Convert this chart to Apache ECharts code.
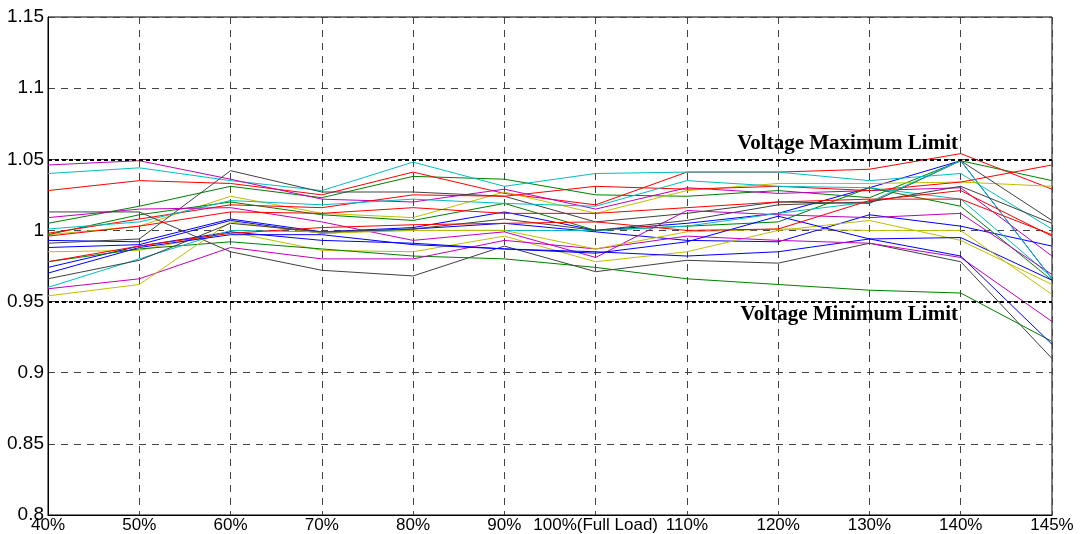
<!DOCTYPE html>
<html lang="en">
<head>
    <meta charset="UTF-8">
    <title>Voltage profile</title>
    <script src="https://cdn.jsdelivr.net/npm/echarts@6/dist/echarts.min.js"></script>
    <style>
        html, body {
            margin: 0;
            height: 100%;
            width: 100%;
            overflow: hidden;
            background: #fff;
        }
    </style>
</head>
<body>
<div id="chart" style="width: 1083px;height: 534px;"></div>
<script>
    var loads = ['40%', '50%', '60%', '70%', '80%', '90%', '100%(Full Load)', '110%', '120%', '130%', '140%', '145%'];

    var maxLimit = 1.05;
    var minLimit = 0.95;

    // bus voltages (p.u.), one array per curve
    var magentaA = [1.046, 1.049, 1.036, 1.022, 1.020, 1.029, 1.015, 1.030, 1.026, 1.028, 1.030, 0.982];
    var magentaB = [1.009, 1.015, 1.016, 1.006, 0.993, 0.999, 0.981, 1.014, 1.011, 1.009, 1.012, 0.969];
    var magentaC = [0.959, 0.966, 0.988, 0.980, 0.980, 0.993, 0.987, 0.996, 0.993, 0.991, 0.981, 0.936];
    var cyanA = [1.040, 1.044, 1.035, 1.028, 1.048, 1.031, 1.040, 1.041, 1.041, 1.035, 1.040, 1.001];
    var cyanB = [1.001, 1.006, 1.021, 1.018, 1.022, 1.019, 1.017, 1.035, 1.031, 1.030, 1.022, 0.967];
    var cyanC = [0.960, 0.980, 1.000, 0.999, 1.000, 1.000, 1.000, 1.003, 1.012, 1.020, 1.049, 0.966];
    var redA = [1.028, 1.035, 1.033, 1.025, 1.041, 1.026, 1.018, 1.041, 1.041, 1.043, 1.054, 1.029];
    var redB = [0.998, 1.008, 1.018, 1.016, 1.025, 1.024, 1.031, 1.029, 1.031, 1.028, 1.034, 1.046];
    var redC = [0.996, 1.003, 1.013, 1.012, 1.016, 1.012, 1.012, 1.016, 1.020, 1.022, 1.022, 0.997];
    var redD = [0.978, 0.989, 0.998, 1.002, 1.004, 1.005, 1.006, 1.000, 1.001, 1.021, 1.028, 0.996];
    var grayA = [0.991, 0.994, 1.042, 1.027, 1.027, 1.024, 1.006, 1.012, 1.020, 1.019, 1.049, 1.007];
    var grayB = [1.013, 1.013, 0.985, 0.972, 0.968, 0.989, 0.971, 0.979, 0.977, 0.991, 0.978, 0.910];
    var grayC = [0.966, 0.979, 1.005, 0.999, 1.001, 1.008, 1.000, 1.007, 1.018, 1.020, 1.031, 1.005];
    var greenA = [1.005, 1.017, 1.031, 1.023, 1.038, 1.036, 1.025, 1.024, 1.028, 1.023, 1.049, 1.035];
    var greenB = [0.997, 1.011, 1.020, 1.011, 1.007, 1.019, 1.000, 1.003, 1.006, 1.030, 1.017, 0.965];
    var greenC = [0.978, 0.987, 0.992, 0.987, 0.982, 0.980, 0.974, 0.966, 0.962, 0.958, 0.956, 0.922];
    var blueA = [0.993, 0.992, 1.008, 0.999, 1.002, 1.013, 1.000, 1.005, 1.012, 1.030, 1.049, 0.966];
    var blueB = [0.988, 0.990, 1.007, 0.998, 1.001, 1.005, 0.999, 0.993, 0.992, 1.011, 1.003, 0.989];
    var blueC = [0.974, 0.989, 0.999, 0.993, 0.991, 0.987, 0.985, 0.982, 0.985, 0.994, 0.995, 0.965];
    var blueD = [0.970, 0.988, 0.997, 0.997, 0.990, 0.987, 0.984, 0.992, 1.010, 0.994, 0.982, 0.920];
    var yellowA = [0.997, 1.003, 1.024, 1.012, 1.009, 1.027, 1.012, 1.028, 1.033, 1.033, 1.034, 1.031];
    var yellowB = [0.985, 0.986, 0.999, 0.986, 0.985, 0.996, 0.978, 0.985, 1.000, 1.007, 0.993, 0.962];
    var yellowC = [0.954, 0.962, 1.006, 0.998, 1.000, 1.000, 0.987, 0.999, 1.001, 1.000, 1.000, 0.955];

    var curves = [
        [blueA, '#0000ff'], [greenA, '#008000'], [redA, '#ff0000'], [cyanA, '#00bfbf'],
        [magentaA, '#bf00bf'], [yellowA, '#bfbf00'], [grayA, '#404040'],
        [blueB, '#0000ff'], [greenB, '#008000'], [redB, '#ff0000'], [cyanB, '#00bfbf'],
        [magentaB, '#bf00bf'], [yellowB, '#bfbf00'], [grayB, '#404040'],
        [blueC, '#0000ff'], [greenC, '#008000'], [redC, '#ff0000'], [cyanC, '#00bfbf'],
        [magentaC, '#bf00bf'], [yellowC, '#bfbf00'], [grayC, '#404040'],
        [blueD, '#0000ff'], [redD, '#ff0000']
    ];

    var limitLabel = {
        fontFamily: 'Liberation Serif',
        fontWeight: 'bold',
        fontSize: 21,
        color: '#000'
    };

    var series = curves.map(function (c, i) {
        return {
            name: 'bus' + (i + 1),
            type: 'line',
            data: c[0],
            symbol: 'none',
            animation: false,
            lineStyle: {width: 1, color: c[1]},
            itemStyle: {color: c[1]}
        };
    });

    series.push({
        name: 'limits',
        type: 'line',
        data: [],
        animation: false,
        markLine: {
            symbol: 'none',
            silent: true,
            animation: false,
            lineStyle: {color: '#000', width: 2, type: [4, 3]},
            data: [
                {yAxis: maxLimit, label: Object.assign({
                    show: true, position: 'insideEndTop', distance: [94, 5],
                    formatter: 'Voltage Maximum Limit'
                }, limitLabel)},
                {yAxis: minLimit, label: Object.assign({
                    show: true, position: 'insideEndBottom', distance: [94, 3],
                    formatter: 'Voltage Minimum Limit'
                }, limitLabel)}
            ]
        }
    });

    var chart = echarts.init(document.getElementById('chart'));
    chart.setOption({
        backgroundColor: '#fff',
        animation: false,
        grid: {
            left: 48, right: 31, top: 17, bottom: 17,
            show: true, borderColor: '#000', borderWidth: 1
        },
        xAxis: {
            type: 'category',
            data: loads,
            boundaryGap: false,
            axisLine: {lineStyle: {color: '#000', width: 1}},
            axisTick: {show: false},
            axisLabel: {
                interval: 0,
                color: '#000',
                fontFamily: 'Liberation Sans Narrow, Liberation Sans',
                fontSize: 17,
                margin: 2
            },
            splitLine: {show: true, lineStyle: {color: '#444', width: 1, type: [7, 6]}}
        },
        yAxis: {
            type: 'value',
            min: 0.8,
            max: 1.15,
            interval: 0.05,
            axisLine: {show: true, lineStyle: {color: '#000', width: 1}},
            axisTick: {show: false},
            axisLabel: {
                color: '#000',
                fontFamily: 'Liberation Sans',
                fontSize: 19,
                margin: 4,
                formatter: function (v) {
                    return String(+v.toFixed(2));
                }
            },
            splitLine: {show: true, lineStyle: {color: '#444', width: 1, type: [7, 6]}}
        },
        series: series
    });
</script>
</body>
</html>
